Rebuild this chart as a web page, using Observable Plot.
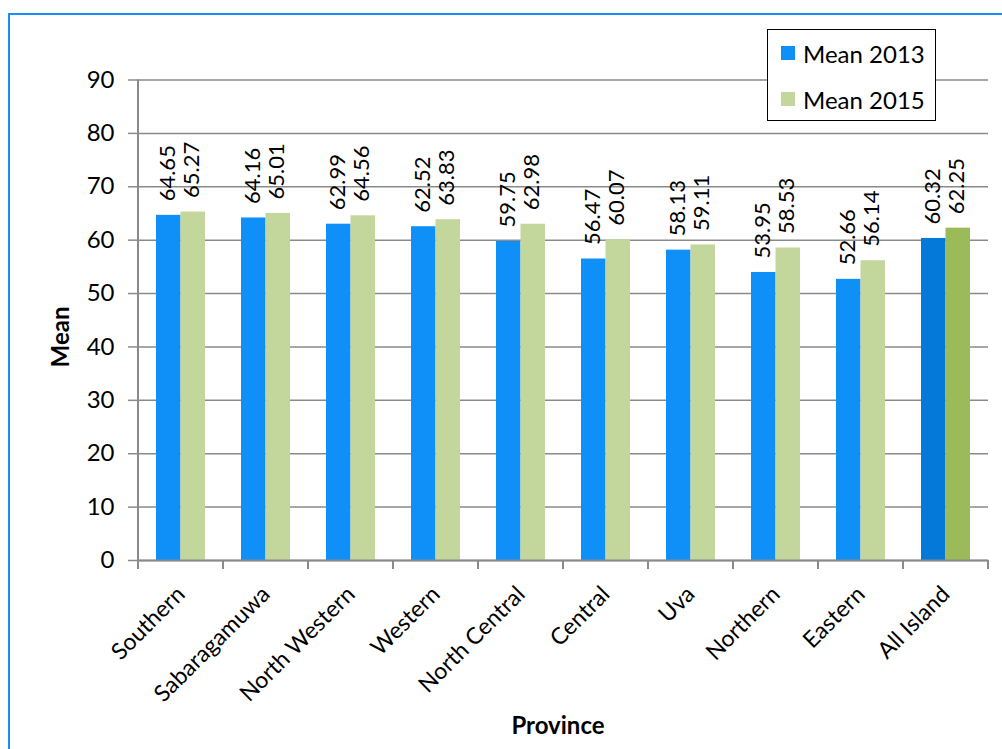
<!DOCTYPE html>
<html>
<head>
<meta charset="utf-8">
<script src="https://cdn.jsdelivr.net/npm/d3@7"></script>
<script src="https://cdn.jsdelivr.net/npm/@observablehq/plot@0.6"></script>
<style>
  html, body { margin: 0; padding: 0; background: #fff; }
  #wrap { position: relative; width: 1002px; height: 749px; overflow: hidden; font-family: "Lato", sans-serif; }
  #frame { position: absolute; left: 8px; top: 13px; width: 1100px; height: 900px;
           border-left: 2.5px solid #1a8cf5; border-top: 2.5px solid #1a8cf5; box-sizing: border-box; }
  #chart { position: absolute; left: 0; top: 0; }
  .legend { position: absolute; left: 767px; top: 29px; width: 169px; height: 92px; box-sizing: border-box;
            border: 1.5px solid #000; background: #fff; }
  .legend .item { position: absolute; left: 13px; height: 20px; display: flex; align-items: center; font-size: 24px; color: #000; white-space: nowrap; }
  .legend .sw { width: 14px; height: 14px; margin-right: 8px; }
  .ytitle { position: absolute; left: 59px; top: 337px; transform: translate(-50%, -50%) rotate(-90deg);
            font-weight: bold; font-size: 24px; white-space: nowrap; }
  .xtitle { position: absolute; left: 558px; top: 724px; transform: translate(-50%, -50%);
            font-weight: bold; font-size: 24px; white-space: nowrap; }
</style>
</head>
<body>
<div id="wrap">
  <div id="frame"></div>
  <div id="chart"></div>
  <div class="ytitle">Mean</div>
  <div class="xtitle">Province</div>
  <div class="legend" id="legend"></div>
</div>
<script>
// Mean scores by province, 2013 vs 2015
const provinces = ["Southern", "Sabaragamuwa", "North Western", "Western", "North Central",
                   "Central", "Uva", "Northern", "Eastern", "All Island"];
const mean2013 = [64.65, 64.16, 62.99, 62.52, 59.75, 56.47, 58.13, 53.95, 52.66, 60.32];
const mean2015 = [65.27, 65.01, 64.56, 63.83, 62.98, 60.07, 59.11, 58.53, 56.14, 62.25];
const years = ["2013", "2015"];
const seriesNames = ["Mean 2013", "Mean 2015"];
const yTicks = [0, 10, 20, 30, 40, 50, 60, 70, 80, 90];

const rows = provinces.flatMap((p, i) => [
  {province: p, year: "2013", value: mean2013[i]},
  {province: p, year: "2015", value: mean2015[i]}
]);

// The overall (All Island) group uses deeper shades of the same two hues
const fillKey = d => d.province === "All Island" ? d.year + " all" : d.year;
const colorDomain = ["2013", "2015", "2013 all", "2015 all"];
const colorRange = ["#0f8ff8", "#c3d69b", "#0579d9", "#9bbb59"];

const gridColor = "#8a8a8a";
const fmt = d3.format(".2f");

const chart = Plot.plot({
  width: 1002,
  height: 749,
  marginLeft: 138,
  marginRight: 14,
  marginTop: 79.5,
  marginBottom: 189,
  style: {fontFamily: "Lato, sans-serif", fontSize: "21px", color: "#000", background: "transparent"},
  fx: {domain: provinces, paddingInner: 0, paddingOuter: 0, round: false, label: null},
  x: {domain: years, paddingInner: 0, paddingOuter: 0.735, round: false, axis: null},
  y: {domain: [0, 90], label: null},
  color: {domain: colorDomain, range: colorRange},
  marks: [
    Plot.gridY(yTicks, {stroke: gridColor, strokeOpacity: 1, strokeWidth: 1.5}),
    Plot.barY(rows, {fx: "province", x: "year", y: "value", fill: fillKey}),
    Plot.text(rows, {
      fx: "province", x: "year", y: "value", text: d => fmt(d.value),
      rotate: -90, textAnchor: "start", lineAnchor: "middle", dy: -14, dx: -1, fontSize: 22, fill: "#000"
    }),
    Plot.ruleY([0], {stroke: gridColor, strokeWidth: 2}),
    Plot.axisY(yTicks, {tickSize: 10, tickPadding: 14, stroke: gridColor, strokeWidth: 1.5, fontSize: 24, label: null}),
    Plot.axisFx({anchor: "bottom", tickSize: 0, tickPadding: 30, tickRotate: -45, fontSize: 23, label: null})
  ]
});

document.getElementById("chart").appendChild(chart);

// Category dividers on the base line and the vertical value axis line, placed through Plot's scales
const fxScale = chart.scale("fx");
const yScale = chart.scale("y");
const svg = d3.select(chart);
const y0 = yScale.apply(0);
const y90 = yScale.apply(90);
const bounds = provinces.map(p => fxScale.apply(p));
bounds.push(bounds[bounds.length - 1] + fxScale.bandwidth);
const g = svg.append("g").attr("stroke", gridColor);
g.selectAll("line.div").data(bounds).join("line")
  .attr("x1", d => d).attr("x2", d => d)
  .attr("y1", y0).attr("y2", y0 + 9)
  .attr("stroke-width", 2);
g.append("line")
  .attr("x1", bounds[0]).attr("x2", bounds[0])
  .attr("y1", y90).attr("y2", y0 + 9)
  .attr("stroke-width", 2);

// Legend
const legend = d3.select("#legend");
seriesNames.forEach((name, i) => {
  const item = legend.append("div").attr("class", "item").style("top", (i === 0 ? 13 : 59) + "px");
  item.append("div").attr("class", "sw").style("background", colorRange[i]);
  item.append("span").text(name);
});
</script>
</body>
</html>
